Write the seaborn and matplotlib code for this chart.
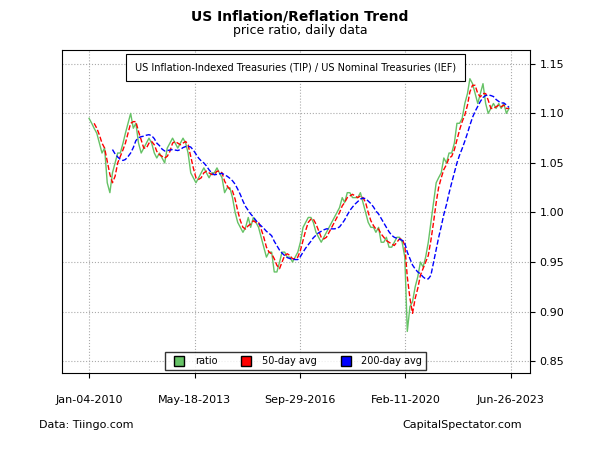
import numpy as np
import pandas as pd
import matplotlib
matplotlib.use("Agg")
import matplotlib.pyplot as plt
from matplotlib.lines import Line2D
import seaborn as sns

# monthly ratio readings, Jan 2010 .. Jun 2023
ratio = [
    1.095, 1.09, 1.085, 1.08, 1.07, 1.06, 1.065, 1.03, 1.02, 1.04, 1.05, 1.06,
    1.06, 1.07, 1.08, 1.09, 1.10, 1.085, 1.09, 1.07, 1.06, 1.065, 1.07, 1.075,
    1.07, 1.06, 1.055, 1.06, 1.055, 1.05, 1.065, 1.07, 1.075, 1.07, 1.065, 1.07,
    1.075, 1.07, 1.06, 1.04, 1.035, 1.03, 1.035, 1.04, 1.045, 1.04, 1.035, 1.04,
    1.04, 1.045, 1.04, 1.035, 1.02, 1.025, 1.025, 1.015, 1.0, 0.99, 0.985, 0.98,
    0.985, 0.995, 0.985, 0.995, 0.99, 0.985, 0.975, 0.965, 0.955, 0.96, 0.96, 0.94,
    0.94, 0.95, 0.96, 0.96, 0.955, 0.955, 0.95, 0.955, 0.96, 0.97, 0.985, 0.99,
    0.995, 0.995, 0.99, 0.98, 0.975, 0.97, 0.975, 0.98, 0.985, 0.99, 0.995, 1.0,
    1.005, 1.015, 1.01, 1.02, 1.02, 1.015, 1.015, 1.015, 1.02, 1.01, 1.0, 0.99,
    0.985, 0.985, 0.98, 0.985, 0.97, 0.97, 0.975, 0.965, 0.965, 0.97, 0.975, 0.975,
    0.97, 0.955, 0.88, 0.905, 0.91, 0.925, 0.935, 0.95, 0.945, 0.955, 0.97, 0.99,
    1.01, 1.03, 1.035, 1.04, 1.055, 1.05, 1.06, 1.06, 1.07, 1.09, 1.09, 1.095,
    1.11, 1.12, 1.135, 1.13, 1.12, 1.11, 1.12, 1.13, 1.11, 1.10, 1.105, 1.11,
    1.105, 1.11, 1.105, 1.11, 1.10, 1.105,
]
tick_dates = ["2010-01-04", "2013-05-18", "2016-09-29", "2020-02-11", "2023-06-26"]
tick_labels = ["Jan-04-2010", "May-18-2013", "Sep-29-2016", "Feb-11-2020", "Jun-26-2023"]

dates = pd.date_range("2010-01-01", periods=len(ratio), freq="MS") + pd.Timedelta(days=3)
df = pd.DataFrame({"date": dates, "ratio": ratio})
df["ma50"] = df["ratio"].rolling(3).mean()
df["ma200"] = df["ratio"].rolling(10).mean()

fig = plt.figure(figsize=(6, 4.5), dpi=100)
ax = fig.add_axes([0.103, 0.171, 0.78, 0.718])
sns.lineplot(data=df, x="date", y="ratio", ax=ax, color="#66c266", lw=1)
sns.lineplot(data=df, x="date", y="ma50", ax=ax, color="red", lw=1, linestyle="--")
sns.lineplot(data=df, x="date", y="ma200", ax=ax, color="blue", lw=1, linestyle="--")

ax.set_xlim(pd.Timestamp("2009-02-20"), pd.Timestamp("2024-02-01"))
ax.set_ylim(0.838, 1.164)
ax.set_xticks(pd.to_datetime(tick_dates))
ax.set_xticklabels(tick_labels, fontsize=8)
ax.set_yticks([0.85, 0.90, 0.95, 1.00, 1.05, 1.10, 1.15])
ax.set_yticklabels([f"{v:.2f}" for v in ax.get_yticks()], fontsize=8)
ax.yaxis.tick_right()
ax.tick_params(axis="x", pad=12)
ax.set_xlabel(""); ax.set_ylabel("")
ax.grid(True, color="#aaaaaa", linestyle=":", lw=0.8)

ax.text(0.5, 0.945, "US Inflation-Indexed Treasuries (TIP) / US Nominal Treasuries (IEF)",
        transform=ax.transAxes, ha="center", va="center", fontsize=7,
        bbox=dict(boxstyle="square,pad=0.9", fc="white", ec="black", lw=0.8))
handles = [Line2D([], [], marker="s", ls="", mfc=c, mec="black", ms=7) for c in ["#66c266", "red", "blue"]]
ax.legend(handles, ["ratio", "50-day avg", "200-day avg"], loc="lower center", ncol=3,
          fontsize=7, frameon=True, fancybox=False, edgecolor="black", handletextpad=0.6,
          columnspacing=2.0, bbox_to_anchor=(0.5, -0.005))

fig.text(0.5, 0.955, "US Inflation/Reflation Trend", ha="center", fontsize=10, fontweight="bold")
fig.text(0.5, 0.925, "price ratio, daily data", ha="center", fontsize=9)
fig.text(0.065, 0.05, "Data: Tiingo.com", fontsize=8)
fig.text(0.87, 0.05, "CapitalSpectator.com", fontsize=8, ha="right")
fig.savefig("out.png", dpi=100)
